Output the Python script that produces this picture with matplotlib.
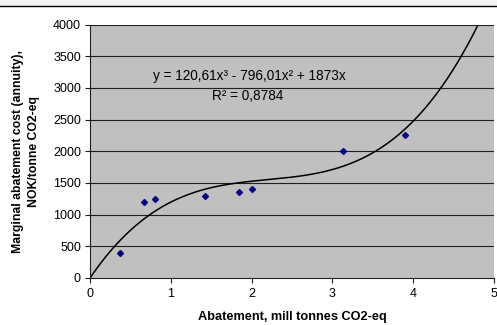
import numpy as np
import matplotlib
matplotlib.use("Agg")
import matplotlib.pyplot as plt
from matplotlib.lines import Line2D
from matplotlib.patches import Rectangle

plt.rcParams['font.family'] = ['Liberation Sans', 'DejaVu Sans']

# Data
abatement = [0.37, 0.67, 0.80, 1.42, 1.84, 2.00, 3.13, 3.90]
cost = [400, 1200, 1250, 1300, 1350, 1400, 2000, 2250]
# Trendline coefficients shown on chart (x^3, x^2, x, const)
trend_coefs = [120.61, -796.01, 1873.0, 0.0]
x_ticks = [0, 1, 2, 3, 4, 5]
y_ticks = [0, 500, 1000, 1500, 2000, 2500, 3000, 3500, 4000]

fig = plt.figure(figsize=(4.97, 3.25), dpi=100)
fig.patch.set_facecolor('white')
# top strip and border line
fig.add_artist(Rectangle((0, 1 - 6/325), 1, 6/325, transform=fig.transFigure,
                         facecolor='#f4f4f4', edgecolor='none'))
fig.add_artist(Line2D([0, 1], [1 - 6/325, 1 - 6/325], transform=fig.transFigure,
                      color='black', lw=1.0))

ax = fig.add_axes([90/497, 1 - 278/325, (494 - 90)/497, (278 - 24.5)/325])
ax.set_facecolor('#c0c0c0')
ax.set_xlim(0, 5)
ax.set_ylim(0, 4000)
ax.set_xticks(x_ticks)
ax.set_yticks(y_ticks)
ax.set_xticklabels([str(v) for v in x_ticks], fontsize=9)
ax.set_yticklabels([str(v) for v in y_ticks], fontsize=9)
ax.tick_params(axis='both', direction='out', length=3.5, width=0.8, color='#202020')
ax.tick_params(axis='x', pad=4)
ax.tick_params(axis='y', pad=3)
for y in y_ticks[1:]:
    ax.axhline(y, color='#202020', lw=0.8, zorder=1)
for s in ['top', 'right']:
    ax.spines[s].set_visible(False)
for s in ['left', 'bottom']:
    ax.spines[s].set_color('#202020')
    ax.spines[s].set_linewidth(0.8)

xs = np.linspace(0, 5, 400)
ys = np.polyval(trend_coefs, xs)
ax.plot(xs, ys, color='black', lw=1.1, zorder=3, clip_on=True)
ax.plot(abatement, cost, linestyle='none', marker='D', markersize=3.0,
        color='#000080', zorder=4)

ax.text(249/497, 1 - 76/325, 'y = 120,61x³ - 796,01x² + 1873x', transform=fig.transFigure,
        ha='center', va='center', fontsize=9.8)
ax.text(248/497, 1 - 96/325, 'R² = 0,8784', transform=fig.transFigure,
        ha='center', va='center', fontsize=9.8)

fig.text(292/497, 1 - 317/325, 'Abatement, mill tonnes CO2-eq', ha='center', va='center',
         fontsize=9.2, fontweight='bold')
fig.text(26/497, 1 - 152/325, 'Marginal abatement cost (annuity),\nNOK/tonne CO2-eq',
         ha='center', va='center', rotation=90, fontsize=8.8, fontweight='bold',
         linespacing=1.45)

fig.savefig('out.png', dpi=100)
